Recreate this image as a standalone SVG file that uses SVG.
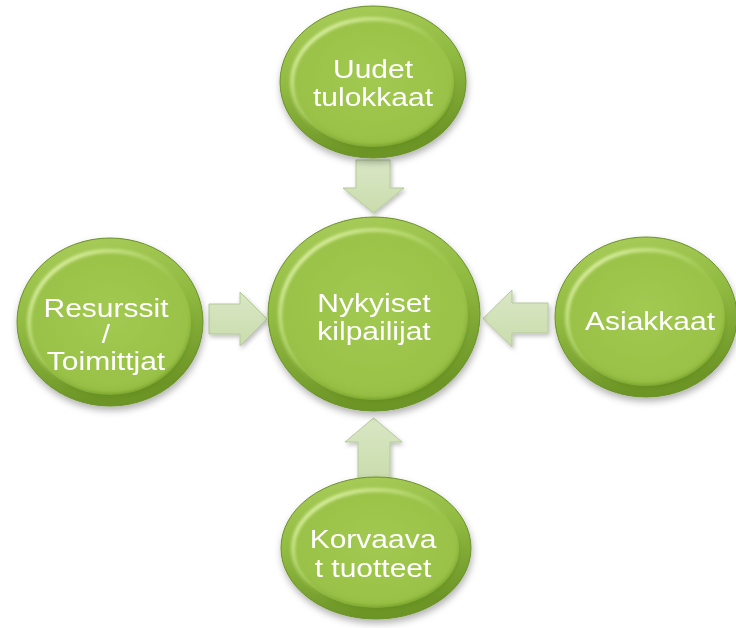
<svg xmlns="http://www.w3.org/2000/svg" width="736" height="628" viewBox="0 0 736 628">
  <defs>
    <style>
      .rim { fill: url(#rimGrad); stroke: #6a9128; stroke-width: 1; }
      .face { fill: url(#faceGrad); }
      .hl { fill: none; stroke: url(#hlGrad); stroke-width: 4; filter: url(#soft); }
      .lo { fill: none; stroke: url(#loGrad); stroke-width: 4; filter: url(#soft); }
      .lbl { font-family: "Liberation Sans", Arial, sans-serif; font-size: 25px; fill: #ffffff; text-anchor: middle; }
      .arrow { fill: url(#arrowGrad); stroke: #b4c99a; stroke-width: 1; filter: url(#arrowShadow); }
    </style>
    <linearGradient id="rimGrad" x1="0" y1="0" x2="0.25" y2="1">
      <stop offset="0" stop-color="#abce5c"/>
      <stop offset="0.5" stop-color="#91bb41"/>
      <stop offset="1" stop-color="#6c9527"/>
    </linearGradient>
    <radialGradient id="faceGrad" cx="0.5" cy="0.45" r="0.6">
      <stop offset="0" stop-color="#a2c951"/>
      <stop offset="0.8" stop-color="#9ac248"/>
      <stop offset="1" stop-color="#8cb63c"/>
    </radialGradient>
    <linearGradient id="hlGrad" x1="0" y1="0.2" x2="0.7" y2="0.9">
      <stop offset="0" stop-color="#e4f6b0" stop-opacity="0.95"/>
      <stop offset="0.45" stop-color="#d2ec92" stop-opacity="0.35"/>
      <stop offset="0.7" stop-color="#b8da70" stop-opacity="0"/>
    </linearGradient>
    <linearGradient id="loGrad" x1="0.3" y1="0" x2="0.7" y2="1">
      <stop offset="0.55" stop-color="#5e8a1c" stop-opacity="0"/>
      <stop offset="1" stop-color="#5e8a1c" stop-opacity="0.55"/>
    </linearGradient>
    <linearGradient id="arrowGrad" x1="0" y1="0" x2="0" y2="1">
      <stop offset="0" stop-color="#d9e7c4"/>
      <stop offset="1" stop-color="#cadcad"/>
    </linearGradient>
    <filter id="soft" x="-10%" y="-10%" width="120%" height="120%">
      <feGaussianBlur stdDeviation="1.6"/>
    </filter>
    <filter id="nodeShadow" x="-15%" y="-15%" width="130%" height="140%">
      <feDropShadow dx="1" dy="4" stdDeviation="3.5" flood-color="#000000" flood-opacity="0.3"/>
    </filter>
    <filter id="arrowShadow" x="-20%" y="-20%" width="150%" height="150%">
      <feDropShadow dx="1.5" dy="2.5" stdDeviation="2" flood-color="#000000" flood-opacity="0.25"/>
    </filter>
  </defs>

  <rect width="736" height="628" fill="#ffffff"/>

  <!-- connectors: block arrows pointing at the centre node -->
  <g id="connectors">
    <path class="arrow" d="M356,160 H390 V188 H404 L373.5,213 L343,188 H356 Z"/>
    <path class="arrow" d="M209,304 H240 V292 L267,319 L240,346 V334 H209 Z"/>
    <path class="arrow" d="M548,303 H512 V290 L483,318.5 L512,347 V333 H548 Z"/>
    <path class="arrow" d="M358,479 V442 H345 L373.5,418 L402,442 H390 V479 Z"/>
  </g>

  <!-- centre node -->
  <g id="node-center" filter="url(#nodeShadow)">
    <ellipse class="rim" cx="374" cy="314" rx="106" ry="97"/>
    <ellipse class="face" cx="374" cy="315" rx="94" ry="85"/>
    <ellipse class="hl" cx="374" cy="315" rx="94" ry="85"/>
    <ellipse class="lo" cx="374" cy="315" rx="94" ry="85"/>
    <text class="lbl" transform="translate(374 0) scale(1.2 1)"><tspan x="0" y="312">Nykyiset</tspan><tspan x="0" y="340">kilpailijat</tspan></text>
  </g>

  <!-- top node -->
  <g id="node-top" filter="url(#nodeShadow)">
    <ellipse class="rim" cx="373" cy="82" rx="93" ry="76"/>
    <ellipse class="face" cx="373" cy="83" rx="81" ry="64"/>
    <ellipse class="hl" cx="373" cy="83" rx="81" ry="64"/>
    <ellipse class="lo" cx="373" cy="83" rx="81" ry="64"/>
    <text class="lbl" transform="translate(373 0) scale(1.2 1)"><tspan x="0" y="78">Uudet</tspan><tspan x="0" y="106">tulokkaat</tspan></text>
  </g>

  <!-- left node -->
  <g id="node-left" filter="url(#nodeShadow)">
    <ellipse class="rim" cx="110" cy="322" rx="93" ry="84"/>
    <ellipse class="face" cx="110" cy="323" rx="81" ry="72"/>
    <ellipse class="hl" cx="110" cy="323" rx="81" ry="72"/>
    <ellipse class="lo" cx="110" cy="323" rx="81" ry="72"/>
    <text class="lbl" transform="translate(106 0) scale(1.2 1)"><tspan x="0" y="317">Resurssit</tspan><tspan x="0" y="343">/</tspan><tspan x="0" y="370">Toimittjat</tspan></text>
  </g>

  <!-- right node -->
  <g id="node-right" filter="url(#nodeShadow)">
    <ellipse class="rim" cx="646" cy="317" rx="91" ry="80"/>
    <ellipse class="face" cx="646" cy="318" rx="79" ry="68"/>
    <ellipse class="hl" cx="646" cy="318" rx="79" ry="68"/>
    <ellipse class="lo" cx="646" cy="318" rx="79" ry="68"/>
    <text class="lbl" transform="translate(650 0) scale(1.2 1)"><tspan x="0" y="330">Asiakkaat</tspan></text>
  </g>

  <!-- bottom node -->
  <g id="node-bottom" filter="url(#nodeShadow)">
    <ellipse class="rim" cx="376" cy="548" rx="95" ry="71"/>
    <ellipse class="face" cx="376" cy="549" rx="83" ry="59"/>
    <ellipse class="hl" cx="376" cy="549" rx="83" ry="59"/>
    <ellipse class="lo" cx="376" cy="549" rx="83" ry="59"/>
    <text class="lbl" transform="translate(373 0) scale(1.2 1)"><tspan x="0" y="548">Korvaava</tspan><tspan x="0" y="577">t tuotteet</tspan></text>
  </g>
</svg>
